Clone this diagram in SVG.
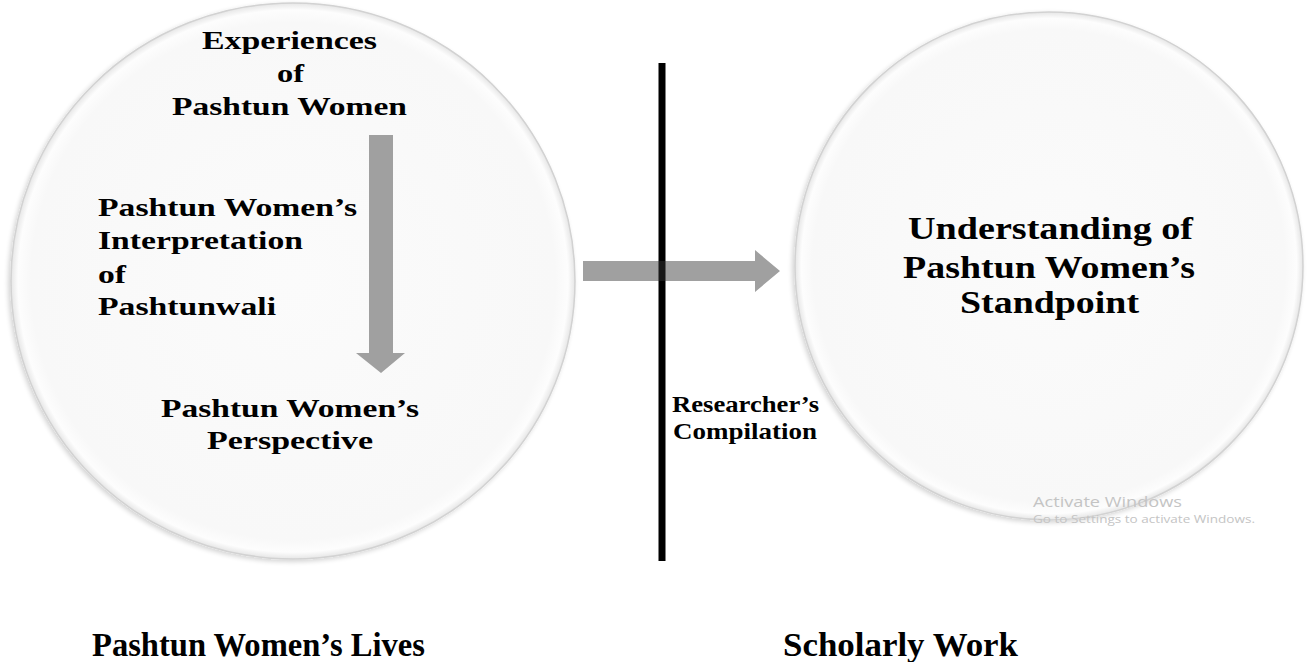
<svg xmlns="http://www.w3.org/2000/svg" width="1307" height="662" viewBox="0 0 1307 662">
<style>
  .t { font-family: "Liberation Serif", "Times New Roman", serif; font-weight: bold; fill: #000; }
  .s26 { font-size: 26px; }
  .s31 { font-size: 31px; }
  .s24 { font-size: 24px; }
  .s33 { font-size: 33px; }
  .circ { fill: url(#cg); stroke: #d2d2d2; stroke-width: 1.5; filter: url(#sh); }
  .arrow { fill: #a0a0a0; }
  .wm { font-family: "Open Sans", "Noto Sans", sans-serif; fill: #c4c4c4; }
</style>
<defs>
  <radialGradient id="cg" cx="0.5" cy="0.5" r="0.5">
    <stop offset="0" stop-color="#fbfbfb"/>
    <stop offset="0.93" stop-color="#f8f8f8"/>
    <stop offset="0.975" stop-color="#fdfdfd"/>
    <stop offset="1" stop-color="#e6e6e6"/>
  </radialGradient>
  <filter id="sh" x="-5%" y="-5%" width="110%" height="110%">
    <feGaussianBlur in="SourceAlpha" stdDeviation="2.5"/>
    <feOffset dx="-2" dy="2" result="b"/>
    <feComponentTransfer><feFuncA type="linear" slope="0.18"/></feComponentTransfer>
    <feMerge><feMergeNode/><feMergeNode in="SourceGraphic"/></feMerge>
  </filter>
</defs>
<rect width="1307" height="662" fill="#ffffff"/>

<g id="node-lives">
  <ellipse class="circ" cx="293" cy="281" rx="282" ry="278"/>
  <text class="t s26" x="202" y="49" textLength="175" lengthAdjust="spacingAndGlyphs">Experiences</text>
  <text class="t s26" x="277" y="82" textLength="27" lengthAdjust="spacingAndGlyphs">of</text>
  <text class="t s26" x="172" y="115" textLength="235" lengthAdjust="spacingAndGlyphs">Pashtun Women</text>
  <text class="t s26" x="98" y="216" textLength="259" lengthAdjust="spacingAndGlyphs">Pashtun Women’s</text>
  <text class="t s26" x="98" y="249" textLength="205" lengthAdjust="spacingAndGlyphs">Interpretation</text>
  <text class="t s26" x="98" y="283" textLength="28" lengthAdjust="spacingAndGlyphs">of</text>
  <text class="t s26" x="98" y="315" textLength="178" lengthAdjust="spacingAndGlyphs">Pashtunwali</text>
  <text class="t s26" x="161" y="417" textLength="258" lengthAdjust="spacingAndGlyphs">Pashtun Women’s</text>
  <text class="t s26" x="207" y="449" textLength="166" lengthAdjust="spacingAndGlyphs">Perspective</text>
</g>

<g id="node-standpoint">
  <ellipse class="circ" cx="1049" cy="266" rx="254" ry="254"/>
  <text class="t s31" x="908" y="239" textLength="285" lengthAdjust="spacingAndGlyphs">Understanding of</text>
  <text class="t s31" x="903" y="278" textLength="292" lengthAdjust="spacingAndGlyphs">Pashtun Women’s</text>
  <text class="t s31" x="960" y="313" textLength="179" lengthAdjust="spacingAndGlyphs">Standpoint</text>
</g>

<g id="divider">
  <rect x="658.5" y="63" width="7" height="498" fill="#000000"/>
  <text class="t s24" x="672" y="412" textLength="147" lengthAdjust="spacingAndGlyphs">Researcher’s</text>
  <text class="t s24" x="673" y="439" textLength="144" lengthAdjust="spacingAndGlyphs">Compilation</text>
</g>

<g id="connectors">
  <polygon class="arrow" points="369,135 393,135 393,353 405,353 381,373 356,353 369,353"/>
  <polygon class="arrow" points="583,261 755,261 755,250 780,271 755,292 755,281 583,281"/>
</g>
<rect x="658.5" y="261" width="7" height="20" fill="#000000" opacity="0.85"/>

<g id="labels">
  <text class="t s33" x="92" y="656" textLength="333" lengthAdjust="spacingAndGlyphs">Pashtun Women’s Lives</text>
  <text class="t s33" x="783" y="656" textLength="235" lengthAdjust="spacingAndGlyphs">Scholarly Work</text>
</g>

<g id="watermark">
  <text class="wm" x="1033" y="507" font-size="15" textLength="149" lengthAdjust="spacingAndGlyphs">Activate Windows</text>
  <text class="wm" x="1033" y="523" font-size="11" textLength="222" lengthAdjust="spacingAndGlyphs">Go to Settings to activate Windows.</text>
</g>
</svg>
